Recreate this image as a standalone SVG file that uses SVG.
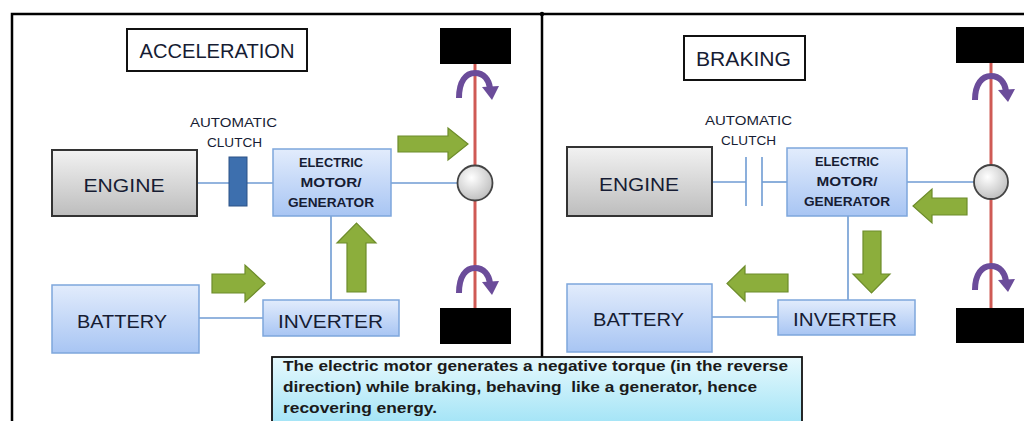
<svg xmlns="http://www.w3.org/2000/svg" width="1024" height="421" viewBox="0 0 1024 421">
<defs>
<linearGradient id="gBlue" x1="0" y1="0" x2="0" y2="1"><stop offset="0" stop-color="#e2ecfc"/><stop offset="1" stop-color="#a8c5f3"/></linearGradient>
<linearGradient id="gGray" x1="0" y1="0" x2="0" y2="1"><stop offset="0" stop-color="#f2f2f2"/><stop offset="1" stop-color="#bdbdbd"/></linearGradient>
<linearGradient id="gCyan" x1="0" y1="0" x2="0" y2="1"><stop offset="0" stop-color="#e6f9fd"/><stop offset="1" stop-color="#a0e3f6"/></linearGradient>
<radialGradient id="gHub" cx="0.4" cy="0.35" r="0.7"><stop offset="0" stop-color="#ffffff"/><stop offset="1" stop-color="#bcbcbc"/></radialGradient>
<style>
.frame{stroke:#000;stroke-width:2.5;fill:none}
.blue{fill:url(#gBlue);stroke:#7ea6dc;stroke-width:1.5}
.gray{fill:url(#gGray);stroke:#333;stroke-width:2}
.lbl{fill:#fff;stroke:#111;stroke-width:2}
.wire{stroke:#6f9bd3;stroke-width:1.6;fill:none}
.axle{stroke:#cf5a55;stroke-width:3;fill:none}
.wheel{fill:#000}
.hub{fill:url(#gHub);stroke:#444;stroke-width:1.8}
.green{fill:#8cae3c;stroke:#6d8c2a;stroke-width:1.2}
.rot{stroke:#6b4c9a;stroke-width:6;fill:none}
.rothead{fill:#6b4c9a}
.clutch{fill:#3d6fae;stroke:#2c5286;stroke-width:1}
.t{font-family:"Liberation Sans",Arial,sans-serif;fill:#161c33;text-anchor:middle}
.big{font-size:19px}
.small{font-size:12.5px}
.mot{font-size:13px;font-weight:bold}
.note{font-family:"Liberation Sans",Arial,sans-serif;font-weight:bold;font-size:15.5px;fill:#1a1a1a}
</style>
</defs>

<g id="frame">
<path class="frame" d="M12 421 V14 H1024"/>
<line class="frame" x1="542" y1="14" x2="542" y2="357"/>
<circle cx="542" cy="14" r="2.2" fill="#000"/>
</g>

<g id="connectors">
<line class="wire" x1="197" y1="183" x2="273" y2="183"/>
<line class="wire" x1="391" y1="183" x2="458" y2="183"/>
<line class="wire" x1="331" y1="216" x2="331" y2="300"/>
<line class="wire" x1="197" y1="318" x2="263" y2="318"/>
<line class="wire" x1="712" y1="182" x2="746" y2="182"/>
<line class="wire" x1="762" y1="182" x2="787" y2="182"/>
<line class="wire" x1="907" y1="182" x2="974" y2="182"/>
<line class="wire" x1="848" y1="216" x2="848" y2="300"/>
<line class="wire" x1="712" y1="317" x2="778" y2="317"/>
<line class="axle" x1="475" y1="64" x2="475" y2="308"/>
<line class="axle" x1="991" y1="63" x2="991" y2="308"/>
</g>

<!-- LEFT PANEL -->
<g id="acceleration-title">
<rect class="lbl" x="127" y="29" width="180" height="42"/>
<text class="t" x="217" y="58" font-size="20" textLength="155" lengthAdjust="spacingAndGlyphs">ACCELERATION</text>
</g>
<g id="engine-left">
<rect class="gray" x="52" y="150" width="145" height="66"/>
<text class="t big" x="124" y="192" textLength="81" lengthAdjust="spacingAndGlyphs">ENGINE</text>
</g>
<g id="clutch-left">
<text class="t small" x="233.5" y="127" textLength="87" lengthAdjust="spacingAndGlyphs" fill="#3b4f72">AUTOMATIC</text>
<text class="t small" x="234.5" y="147" textLength="55" lengthAdjust="spacingAndGlyphs">CLUTCH</text>
<rect class="clutch" x="229" y="157" width="18" height="49"/>
</g>
<g id="motor-left">
<rect class="blue" x="273" y="149" width="118" height="67"/>
<text class="t mot" x="331" y="167" textLength="64" lengthAdjust="spacingAndGlyphs">ELECTRIC</text>
<text class="t mot" x="331" y="187" textLength="61" lengthAdjust="spacingAndGlyphs">MOTOR/</text>
<text class="t mot" x="331" y="207" textLength="86" lengthAdjust="spacingAndGlyphs">GENERATOR</text>
</g>
<g id="battery-left">
<rect class="blue" x="52" y="285" width="147" height="68"/>
<text class="t big" x="122" y="328" textLength="90" lengthAdjust="spacingAndGlyphs">BATTERY</text>
</g>
<g id="inverter-left">
<rect class="blue" x="263" y="300" width="136" height="36"/>
<text class="t big" x="330.5" y="328" textLength="105" lengthAdjust="spacingAndGlyphs">INVERTER</text>
</g>
<g id="wheels-left">
<rect class="wheel" x="440" y="28" width="71" height="36"/>
<rect class="wheel" x="440" y="308" width="71" height="36"/>
<circle class="hub" cx="475" cy="183" r="17.5"/>
<path class="rot" d="M459 98 C459 81 466 73 475 73 C484 73 489 80 490 88"/>
<polygon class="rothead" points="482,87 499,86 492,100"/>
<path class="rot" d="M459 293 C459 276 466 268 475 268 C484 268 489 275 490 283"/>
<polygon class="rothead" points="482,282 499,281 492,295"/>
</g>
<g id="power-arrows-left">
<polygon class="green" points="398,136 448,136 448,128 468,144 448,160 448,152 398,152"/>
<polygon class="green" points="212,274 245,274 245,265 265,283.5 245,302 245,293 212,293"/>
<polygon class="green" points="347,292 347,243 337,243 356.5,223 376,243 366,243 366,292"/>
</g>

<!-- RIGHT PANEL -->
<g id="braking-title">
<rect class="lbl" x="684" y="36" width="121" height="44"/>
<text class="t" x="743.5" y="66" font-size="20" textLength="95" lengthAdjust="spacingAndGlyphs">BRAKING</text>
</g>
<g id="engine-right">
<rect class="gray" x="567" y="147" width="145" height="69"/>
<text class="t big" x="639" y="191" textLength="80" lengthAdjust="spacingAndGlyphs">ENGINE</text>
</g>
<g id="clutch-right">
<text class="t small" x="748.5" y="125" textLength="87" lengthAdjust="spacingAndGlyphs" fill="#3b4f72">AUTOMATIC</text>
<text class="t small" x="748.5" y="145" textLength="55" lengthAdjust="spacingAndGlyphs">CLUTCH</text>
<line class="wire" x1="746" y1="157" x2="746" y2="206" stroke-width="2"/>
<line class="wire" x1="762" y1="157" x2="762" y2="206" stroke-width="2"/>
</g>
<g id="motor-right">
<rect class="blue" x="787" y="148" width="120" height="68"/>
<text class="t mot" x="847" y="166" textLength="64" lengthAdjust="spacingAndGlyphs">ELECTRIC</text>
<text class="t mot" x="847" y="186" textLength="61" lengthAdjust="spacingAndGlyphs">MOTOR/</text>
<text class="t mot" x="847" y="206" textLength="86" lengthAdjust="spacingAndGlyphs">GENERATOR</text>
</g>
<g id="battery-right">
<rect class="blue" x="567" y="284" width="145" height="68"/>
<text class="t big" x="638.5" y="326" textLength="91" lengthAdjust="spacingAndGlyphs">BATTERY</text>
</g>
<g id="inverter-right">
<rect class="blue" x="778" y="300" width="137" height="35"/>
<text class="t big" x="845" y="326" textLength="104" lengthAdjust="spacingAndGlyphs">INVERTER</text>
</g>
<g id="wheels-right">
<rect class="wheel" x="956" y="27" width="70" height="36"/>
<rect class="wheel" x="956" y="308" width="70" height="35"/>
<circle class="hub" cx="991" cy="182" r="17"/>
<path class="rot" d="M975 100 C975 84 982 76 991 76 C1000 76 1005 83 1006 91"/>
<polygon class="rothead" points="998,90 1015,89 1008,102"/>
<path class="rot" d="M975 290 C975 274 982 266 991 266 C1000 266 1005 273 1006 281"/>
<polygon class="rothead" points="998,280 1015,279 1008,292"/>
</g>
<g id="power-arrows-right">
<polygon class="green" points="967,198 932,198 932,189 913,206 932,223 932,215 967,215"/>
<polygon class="green" points="863,231 881,231 881,274 890,274 871.5,293 853,274 863,274"/>
<polygon class="green" points="788,274 745,274 745,266 727,283.5 745,301 745,292 788,292"/>
</g>

<g id="note">
<rect x="272" y="357" width="530" height="70" fill="url(#gCyan)" stroke="#111" stroke-width="1.8"/>
<text class="note" x="283" y="371" textLength="505" lengthAdjust="spacingAndGlyphs">The electric motor generates a negative torque (in the reverse</text>
<text class="note" x="283" y="392" textLength="474" lengthAdjust="spacingAndGlyphs" xml:space="preserve">direction) while braking, behaving  like a generator, hence</text>
<text class="note" x="283" y="413" textLength="154" lengthAdjust="spacingAndGlyphs">recovering energy.</text>
</g>
</svg>
